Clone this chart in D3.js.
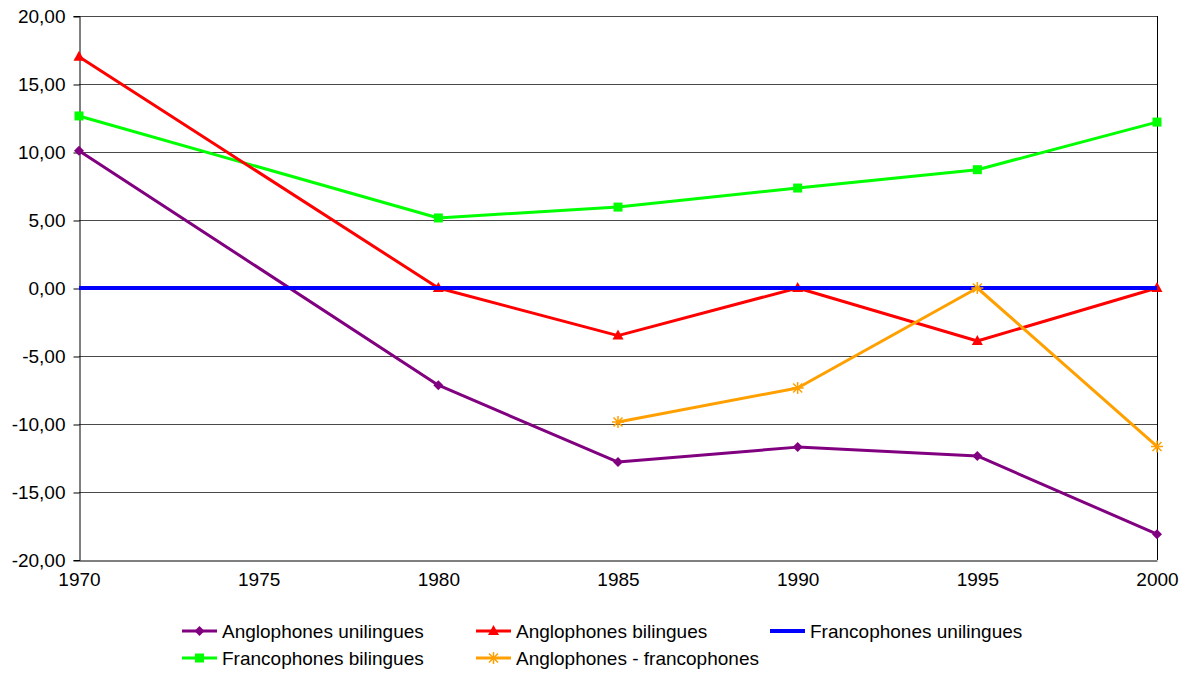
<!DOCTYPE html>
<html><head><meta charset="utf-8">
<script src="https://cdn.jsdelivr.net/npm/d3@7"></script>
<style>body{margin:0;background:#fff;}svg{display:block;font-family:"Liberation Sans",Arial,sans-serif;}</style>
</head><body><svg id="c" width="1196" height="673"></svg>
<script>
const years = [1970, 1975, 1980, 1985, 1990, 1995, 2000];
const yTicks = [-20, -15, -10, -5, 0, 5, 10, 15, 20];
const angloUni = [10.1, null, -7.15, -12.8, -11.7, -12.35, -18.1];
const angloBi = [17.0, null, 0, -3.5, 0, -3.9, 0];
const francoUni = [0, null, 0, 0, 0, 0, 0];
const francoBi = [12.65, null, 5.15, 5.95, 7.35, 8.7, 12.2];
const angloMinusFranco = [null, null, null, -9.85, -7.35, 0, -11.65];
const seriesNames = ["Anglophones unilingues", "Anglophones bilingues", "Francophones unilingues", "Francophones bilingues", "Anglophones - francophones"];

const series = [
  {name: seriesNames[0], values: angloUni, color: "#800080", marker: "diamond", w: 3},
  {name: seriesNames[1], values: angloBi, color: "#FF0000", marker: "triangle", w: 3},
  {name: seriesNames[2], values: francoUni, color: "#0000FF", marker: "none", w: 4},
  {name: seriesNames[3], values: francoBi, color: "#00FF00", marker: "square", w: 3},
  {name: seriesNames[4], values: angloMinusFranco, color: "#FFA000", marker: "star", w: 3}
];

const FS = 19;
const svg = d3.select("#c");
const L = 79, R = 1157, T = 16, B = 560;
const x = d3.scaleLinear().domain([1970, 2000]).range([L, R]);
const y = d3.scaleLinear().domain([-20, 20]).range([B, T]);

// gridlines
svg.append("g").selectAll("line").data(yTicks.filter(d => d > -20)).join("line")
  .attr("x1", L).attr("x2", R).attr("y1", d => y(d) + 0.5).attr("y2", d => y(d) + 0.5)
  .attr("stroke", "#4a4a4a").attr("stroke-width", 1);

// y axis
const yAxis = svg.append("g").attr("transform", `translate(${L + 0.5},0)`)
  .call(d3.axisLeft(y).tickValues(yTicks).tickSize(6).tickPadding(8)
    .tickFormat(d => d3.format(".2f")(d).replace(".", ",").replace("\u2212", "-")));
yAxis.select(".domain").attr("stroke", "#000");
yAxis.selectAll(".tick line").attr("stroke", "#000").attr("transform", "translate(0,0.5)");
yAxis.selectAll(".tick text").attr("font-size", FS).attr("fill", "#000").attr("font-family", "Liberation Sans, Arial, sans-serif");

// right border
svg.append("line").attr("x1", R + 0.5).attr("x2", R + 0.5).attr("y1", T).attr("y2", B).attr("stroke", "#000");

// x axis
const xAxis = svg.append("g").attr("transform", `translate(0,${B + 0.5})`)
  .call(d3.axisBottom(x).tickValues(years).tickSize(0).tickPadding(12).tickFormat(d3.format("d")));
xAxis.select(".domain").attr("stroke", "#000");
xAxis.selectAll(".tick text").attr("font-size", FS).attr("fill", "#000").attr("font-family", "Liberation Sans, Arial, sans-serif");

function drawMarker(g, type, color, cx, cy) {
  if (type === "none") return;
  const t = `translate(${cx},${cy})`;
  if (type === "star") {
    const r = 6;
    const p = `M${-r},0L${r},0M0,${-r}L0,${r}M${-r*0.75},${-r*0.75}L${r*0.75},${r*0.75}M${-r*0.75},${r*0.75}L${r*0.75},${-r*0.75}`;
    g.append("path").attr("d", p).attr("transform", t).attr("stroke", color).attr("stroke-width", 1.5).attr("fill", "none");
  } else if (type === "diamond") {
    g.append("path").attr("d", "M0,-5L5,0L0,5L-5,0Z").attr("transform", t).attr("fill", color);
  } else if (type === "triangle") {
    g.append("path").attr("d", "M0,-6L5.5,4L-5.5,4Z").attr("transform", t).attr("fill", color);
  } else if (type === "square") {
    g.append("path").attr("d", "M-4.5,-4.5H4.5V4.5H-4.5Z").attr("transform", t).attr("fill", color);
  }
}

const line = d3.line().x(d => x(d.year)).y(d => y(d.v));
const order = [0, 3, 1, 2, 4];
order.forEach(i => {
  const s = series[i];
  const pts = years.map((yr, j) => ({year: yr, v: s.values[j]})).filter(d => d.v !== null);
  const g = svg.append("g");
  g.append("path").datum(pts).attr("d", line).attr("fill", "none").attr("stroke", s.color).attr("stroke-width", s.w).attr("stroke-linejoin", "round");
  pts.forEach(p => drawMarker(g, s.marker, s.color, x(p.year), y(p.v)));
});

// legend
const legendPos = [[182, 631], [476, 631], [770, 631], [182, 658], [476, 658]];
series.forEach((s, i) => {
  const [lx, ly] = legendPos[i];
  const g = svg.append("g");
  g.append("line").attr("x1", lx).attr("x2", lx + 35).attr("y1", ly).attr("y2", ly).attr("stroke", s.color).attr("stroke-width", s.w);
  drawMarker(g, s.marker, s.color, lx + 17.5, ly);
  g.append("text").attr("x", lx + 40).attr("y", ly + 7).attr("font-size", FS).attr("fill", "#000").text(s.name);
});
</script></body></html>
